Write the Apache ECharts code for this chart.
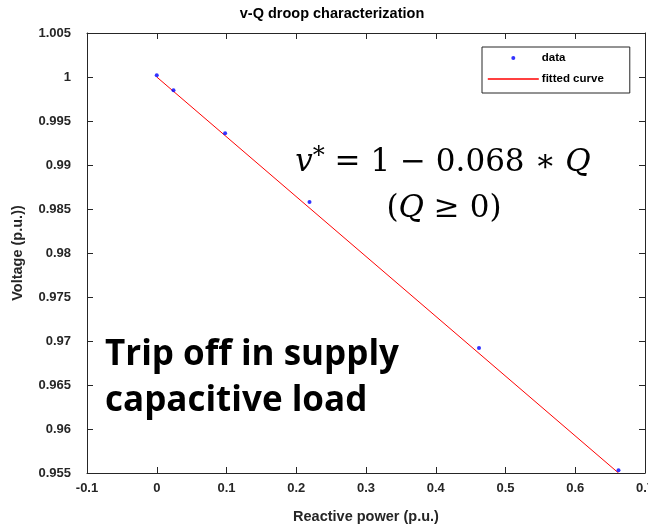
<!DOCTYPE html>
<html><head><meta charset="utf-8">
<script src="https://cdn.jsdelivr.net/npm/echarts@6/dist/echarts.min.js"></script>
<style>html,body{margin:0;padding:0;background:#fff}#c{width:648px;height:524px}</style>
</head><body><div id="c"></div>
<script>
// data
const dataQ = [0, 0.024, 0.098, 0.219, 0.462, 0.662];
const dataV = [1.0002, 0.9985, 0.9936, 0.9858, 0.9692, 0.9553];
const fitQ = [0, 0.662];
const fitV = [1.0, 0.955];
const xMin = -0.1, xMax = 0.7, xStep = 0.1;
const yMin = 0.955, yMax = 1.005, yStep = 0.005;
const titleText = 'v-Q droop characterization';
const xName = 'Reactive power (p.u.)';
const yName = 'Voltage (p.u.))';
const seriesNames = ['data', 'fitted curve'];

const SANS = '"Liberation Sans", Arial, sans-serif';
const AX = '#262626';
const fmt = v => String(parseFloat(v.toFixed(3)));

const chart = echarts.init(document.getElementById('c'), null, {renderer: 'canvas'});
const baseAxis = {
  type: 'value', splitLine: {show: false},
  axisLine: {show: true, onZero: false, lineStyle: {color: AX, width: 1}},
  axisTick: {show: true, inside: true, length: 6, lineStyle: {color: AX}},
};
const option = {
  animation: false,
  backgroundColor: '#fff',
  grid: {left: 87, right: 3, top: 33, bottom: 51, containLabel: false, outerBoundsMode: 'none'},
  xAxis: [
    Object.assign({}, baseAxis, {
      position: 'bottom', min: xMin, max: xMax, interval: xStep,
      axisLabel: {fontFamily: SANS, fontWeight: 'bold', fontSize: 13, color: AX, margin: 9, formatter: fmt},
      name: xName, nameLocation: 'middle', nameGap: 36,
      nameTextStyle: {fontFamily: SANS, fontWeight: 'bold', fontSize: 14.5, color: AX}
    }),
    Object.assign({}, baseAxis, {
      position: 'top', min: xMin, max: xMax, interval: xStep, axisLabel: {show: false}
    })
  ],
  yAxis: [
    Object.assign({}, baseAxis, {
      position: 'left', min: yMin, max: yMax, interval: yStep,
      axisLabel: {fontFamily: SANS, fontWeight: 'bold', fontSize: 13, color: AX, margin: 16, formatter: fmt},
      name: yName, nameLocation: 'middle', nameGap: 62, nameRotate: 90,
      nameTextStyle: {fontFamily: SANS, fontWeight: 'bold', fontSize: 14.5, color: AX}
    }),
    Object.assign({}, baseAxis, {
      position: 'right', min: yMin, max: yMax, interval: yStep, axisLabel: {show: false}
    })
  ],
  legend: {
    orient: 'vertical', left: 482, top: 47,
    padding: [5, 26, 8, 5], itemWidth: 51, itemHeight: 4, itemGap: 9,
    borderColor: AX, borderWidth: 1, backgroundColor: '#fff',
    textStyle: {fontFamily: SANS, fontWeight: 'bold', fontSize: 11.5, color: '#000', padding: [0, 0, 0, -2]},
    data: [
      {name: seriesNames[0], icon: 'circle'},
      {name: seriesNames[1], itemStyle: {opacity: 0}, lineStyle: {color: '#ff0000', width: 1.6, opacity: 1}}
    ]
  },
  series: [
    {
      name: seriesNames[1], type: 'line', xAxisIndex: 0, yAxisIndex: 0,
      data: fitQ.map((q, i) => [q, fitV[i]]),
      symbol: 'none', lineStyle: {color: '#ff0000', width: 1}, itemStyle: {color: '#ff0000'}, z: 2
    },
    {
      name: seriesNames[0], type: 'scatter', xAxisIndex: 0, yAxisIndex: 0,
      data: dataQ.map((q, i) => [q, dataV[i]]),
      symbol: 'circle', symbolSize: 4, itemStyle: {color: '#0000ff'}, z: 3
    }
  ],
  graphic: [
    {type: 'text', x: 332, y: 14, style: {text: titleText, font: 'bold 14.5px ' + SANS, fill: '#000', align: 'center', verticalAlign: 'middle', textAlign: 'center', textVerticalAlign: 'middle'}},
    {type: 'text', x: 443, y: 163, style: {
      text: '{v|v}{s|*} = 1 − 0.068 ∗ {q|Q}', font: '31px "DejaVu Serif", serif', fill: '#000',
      align: 'center', verticalAlign: 'middle', textAlign: 'center', textVerticalAlign: 'middle',
      rich: {
        v: {fontFamily: '"DejaVu Serif"', fontStyle: 'italic', fontSize: 31},
        s: {fontFamily: '"DejaVu Serif"', fontSize: 24, verticalAlign: 'top', padding: [0, 0, 12, 0]},
        q: {fontFamily: '"DejaVu Serif"', fontStyle: 'italic', fontSize: 31}
      }
    }},
    {type: 'text', x: 444, y: 209, style: {
      text: '({q|Q} ≥ 0)', font: '31px "DejaVu Serif", serif', fill: '#000',
      align: 'center', verticalAlign: 'middle', textAlign: 'center', textVerticalAlign: 'middle',
      rich: {q: {fontFamily: '"DejaVu Serif"', fontStyle: 'italic', fontSize: 31}}
    }},
    {type: 'text', x: 105, y: 355, style: {text: 'Trip off in supply', font: 'bold 35px "Open Sans", sans-serif', fill: '#000', align: 'left', verticalAlign: 'middle', textAlign: 'left', textVerticalAlign: 'middle'}},
    {type: 'text', x: 105, y: 401, style: {text: 'capacitive load', font: 'bold 35px "Open Sans", sans-serif', fill: '#000', align: 'left', verticalAlign: 'middle', textAlign: 'left', textVerticalAlign: 'middle'}}
  ]
};
chart.setOption(option);
</script>
</body></html>
